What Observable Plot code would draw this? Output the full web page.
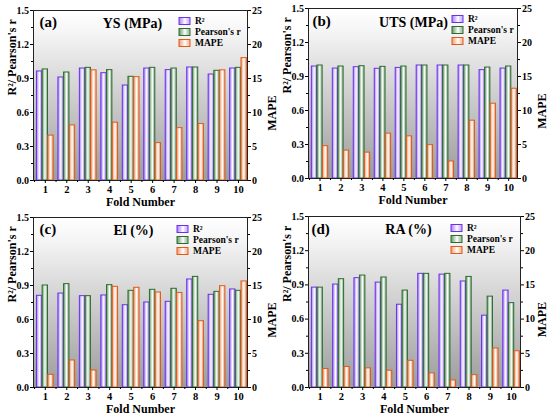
<!DOCTYPE html>
<html><head><meta charset="utf-8">
<script src="https://cdn.jsdelivr.net/npm/d3@7"></script>
<script src="https://cdn.jsdelivr.net/npm/@observablehq/plot@0.6"></script>
<style>
body{margin:0;background:#fff;}
#wrap{position:relative;width:550px;height:417px;overflow:hidden;background:#fff;}
#wrap svg{position:absolute;overflow:visible;}
</style></head><body><div id="wrap"></div>
<script>
const folds = [1, 2, 3, 4, 5, 6, 7, 8, 9, 10];
const metrics = ["R²", "Pearson's r", "MAPE"];
const leftTicks = [0, 0.3, 0.6, 0.9, 1.2, 1.5];
const rightTicks = [0, 5, 10, 15, 20, 25];

const ysR2   = [0.962, 0.909, 0.988, 0.947, 0.838, 0.988, 0.974, 0.997, 0.935, 0.988];
const ysR    = [0.980, 0.953, 0.994, 0.974, 0.915, 0.994, 0.988, 0.997, 0.968, 0.994];
const ysMAPE = [6.6, 8.1, 16.2, 8.5, 15.2, 5.5, 7.7, 8.3, 16.2, 18.0];

const utsR2   = [0.988, 0.970, 0.982, 0.968, 0.976, 0.997, 0.997, 0.997, 0.956, 0.970];
const utsR    = [0.997, 0.988, 0.991, 0.985, 0.988, 0.997, 0.997, 0.997, 0.979, 0.988];
const utsMAPE = [4.75, 4.1, 3.8, 6.6, 6.2, 4.9, 2.5, 8.5, 11.0, 13.2];

const elR2   = [0.809, 0.829, 0.806, 0.812, 0.726, 0.750, 0.756, 0.953, 0.818, 0.865];
const elR    = [0.900, 0.912, 0.806, 0.903, 0.853, 0.862, 0.871, 0.976, 0.844, 0.853];
const elMAPE = [1.86, 3.97, 2.5, 14.8, 14.66, 13.97, 13.9, 9.75, 14.9, 15.6];

const raR2   = [0.876, 0.903, 0.959, 0.920, 0.726, 0.997, 0.990, 0.930, 0.630, 0.850];
const raR    = [0.876, 0.950, 0.982, 0.965, 0.850, 0.997, 0.997, 0.970, 0.797, 0.740];
const raMAPE = [2.7, 3.0, 2.8, 2.45, 3.9, 2.06, 1.03, 1.8, 5.7, 5.3];

const FONT = "'Liberation Serif', 'Times New Roman', serif";
const strokes = ["#6b32e6", "#2f6a32", "#e05a1c"];
const mids = ["#a27cff", "#5f9a62", "#f39a66"];
const MAPE_MAX = 25, LEFT_MAX = 1.5;
const toLeft = v => v * LEFT_MAX / MAPE_MAX;

const panels = [
  {id: "a", tag: "(a)", title: "YS (MPa)", r2: ysR2, r: ysR, mape: ysMAPE,
   left: 0, top: 0, h: 208, m: [10, 28, 28, 33], tagDx: 6, tagDy: 12, titleDx: 99, titleDy: 13, legX: 179, legY: 21, mapeDx: 25},
  {id: "b", tag: "(b)", title: "UTS (MPa)", r2: utsR2, r: utsR, mape: utsMAPE,
   left: 275, top: 0, h: 208, m: [8, 33, 30, 33], tagDx: 4, tagDy: 13, titleDx: 105, titleDy: 14, legX: 177, legY: 19, mapeDx: 25},
  {id: "c", tag: "(c)", title: "El (%)", r2: elR2, r: elR, mape: elMAPE,
   left: 0, top: 207, h: 210, m: [10, 28, 30, 33], tagDx: 6, tagDy: 12, titleDx: 100, titleDy: 13, legX: 177, legY: 22, mapeDx: 25},
  {id: "d", tag: "(d)", title: "RA (%)", r2: raR2, r: raR, mape: raMAPE,
   left: 275, top: 207, h: 210, m: [9, 30, 30, 33], tagDx: 3, tagDy: 13, titleDx: 100, titleDy: 13, legX: 176, legY: 21, mapeDx: 22}
];

const offsets = [[-0.39, -0.14], [-0.125, 0.125], [0.14, 0.39]];

function defsMark(id) {
  return () => {
    const d = d3.create("svg:defs");
    const bg = d.append("linearGradient").attr("id", `bg-${id}`)
      .attr("x1", 0).attr("y1", 0).attr("x2", 0).attr("y2", 1);
    bg.append("stop").attr("offset", 0).attr("stop-color", "#ffffff");
    bg.append("stop").attr("offset", 0.12).attr("stop-color", "#f6f6f6");
    bg.append("stop").attr("offset", 1).attr("stop-color", "#9c9c9c");
    mids.forEach((c, i) => {
      const g = d.append("linearGradient").attr("id", `g${i}-${id}`)
        .attr("x1", 0).attr("y1", 0).attr("x2", 1).attr("y2", 0);
      g.append("stop").attr("offset", 0).attr("stop-color", c);
      g.append("stop").attr("offset", 0.55).attr("stop-color", "#ffffff");
      g.append("stop").attr("offset", 1).attr("stop-color", c).attr("stop-opacity", 0.6);
    });
    return d.node();
  };
}

function legendMark(id, x0, y0) {
  return () => {
    const g = d3.create("svg:g")
      .attr("font-family", FONT).attr("font-weight", "bold").attr("font-size", 9.5)
      .attr("fill", "#000").attr("text-anchor", "start");
    metrics.forEach((m, i) => {
      g.append("rect").attr("x", x0).attr("y", y0 + i * 11 - 3.5)
        .attr("width", 11).attr("height", 7)
        .attr("fill", `url(#g${i}-${id})`).attr("stroke", strokes[i]).attr("stroke-width", 1);
      g.append("text").attr("x", x0 + 16).attr("y", y0 + i * 11).attr("dy", "0.35em")
        .attr("text-anchor", "start").text(m);
    });
    return g.node();
  };
}

const wrap = document.getElementById("wrap");

panels.forEach(p => {
  const series = [p.r2, p.r, p.mape.map(toLeft)];
  const [mt, mr, mb, ml] = p.m;
  const barMarks = series.map((vals, k) => Plot.rectY(folds.map((f, i) => ({fold: f, value: vals[i]})), {
    x1: d => d.fold + offsets[k][0],
    x2: d => d.fold + offsets[k][1],
    y1: 0,
    y2: "value",
    fill: `url(#g${k}-${p.id})`,
    stroke: strokes[k],
    strokeWidth: 1
  }));
  const common = {fontSize: 10, fontWeight: "bold", fontFamily: FONT};
  const chart = Plot.plot({
    width: 275,
    height: p.h,
    marginTop: mt, marginRight: mr, marginBottom: mb, marginLeft: ml,
    x: {domain: [0.45, 10.42]},
    y: {domain: [0, 1.5]},
    style: {fontFamily: FONT, fontWeight: "bold", color: "#000", background: "transparent", overflow: "visible"},
    marks: [
      defsMark(p.id),
      Plot.frame({fill: `url(#bg-${p.id})`, stroke: "none"}),
      ...barMarks,
      Plot.frame({stroke: "#222", strokeWidth: 1}),
      Plot.axisY({ticks: leftTicks, tickFormat: d3.format(".1f"), tickSize: 3, tickPadding: 1.5, label: null, ...common}),
      Plot.axisY({ticks: leftTicks.slice(0, -1).map(v => v + 0.15), tickSize: 2, tickFormat: () => "", label: null}),
      Plot.axisY({anchor: "right", ticks: rightTicks.map(toLeft), tickFormat: d => String(Math.round(d * MAPE_MAX / LEFT_MAX)), tickSize: 3, tickPadding: 1.5, label: null, ...common}),
      Plot.axisY({anchor: "right", ticks: rightTicks.slice(0, -1).map(v => toLeft(v + 2.5)), tickSize: 2, tickFormat: () => "", label: null}),
      Plot.axisX({ticks: folds, tickFormat: d => String(d), tickSize: 3, tickPadding: 2, label: null, ...common, fontSize: 10.5}),
      Plot.axisX({ticks: folds.map(f => f - 0.5).concat([10.5]).filter(v => v <= 10.42), tickSize: 2, tickFormat: () => "", label: null}),
      Plot.text([p.tag], {frameAnchor: "top-left", dx: p.tagDx, dy: p.tagDy, textAnchor: "start", lineAnchor: "middle", fontSize: 15, fontWeight: "bold", fontFamily: FONT}),
      Plot.text([p.title], {frameAnchor: "top-left", dx: p.titleDx, dy: p.titleDy, textAnchor: "middle", lineAnchor: "middle", fontSize: 14, fontWeight: "bold", fontFamily: FONT}),
      Plot.text(["Fold Number"], {frameAnchor: "bottom", dy: 22, lineAnchor: "middle", fontSize: 12, fontWeight: "bold", fontFamily: FONT}),
      Plot.text(["R²/ Pearson's r"], {frameAnchor: "left", dx: -21, rotate: -90, lineAnchor: "middle", fontSize: 12, fontWeight: "bold", fontFamily: FONT}),
      Plot.text(["MAPE"], {frameAnchor: "right", dx: p.mapeDx, rotate: -90, lineAnchor: "middle", fontSize: 12, fontWeight: "bold", fontFamily: FONT}),
      legendMark(p.id, p.legX, p.legY)
    ]
  });
  chart.style.left = p.left + "px";
  chart.style.top = p.top + "px";
  wrap.appendChild(chart);
});
</script>
</body></html>
